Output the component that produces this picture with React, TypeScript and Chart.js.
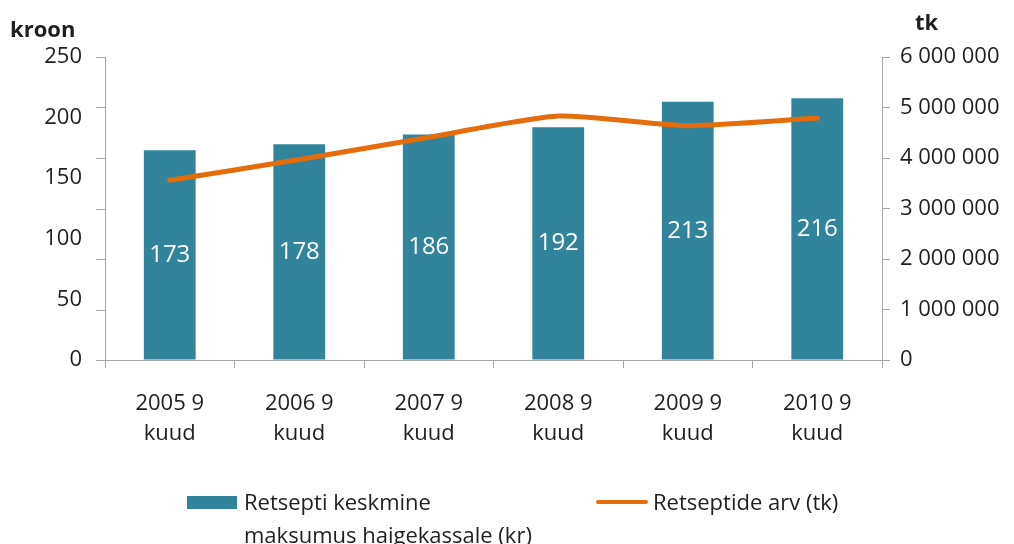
import React, { useEffect, useRef } from "react";
import { Chart, registerables } from "chart.js";

Chart.register(...registerables);

const categories: string[][] = [
  ["2005 9", "kuud"],
  ["2006 9", "kuud"],
  ["2007 9", "kuud"],
  ["2008 9", "kuud"],
  ["2009 9", "kuud"],
  ["2010 9", "kuud"],
];
const avgCost: number[] = [173, 178, 186, 192, 213, 216];
const rxCount: number[] = [3560000, 3970000, 4410000, 4830000, 4640000, 4790000];
const barLabelLines: string[] = ["Retsepti keskmine", "maksumus haigekassale (kr)"];
const lineLabel = "Retseptide arv (tk)";
const leftTitle = "kroon";
const rightTitle = "tk";

const TEAL = "#31849B";
const ORANGE = "#E46C0A";
const AXIS = "#A6A6A6";
const TEXT = "#1F1F1F";
const FONT = "'Open Sans', sans-serif";

const fmtSpaces = (v: number) =>
  String(Math.round(v)).replace(/\B(?=(\d{3})+(?!\d))/g, " ");

const extrasPlugin = {
  id: "extras",
  afterDatasetsDraw(chart: any) {
    const ctx = chart.ctx;
    const meta = chart.getDatasetMeta(0);
    ctx.save();
    ctx.fillStyle = "#FFFFFF";
    ctx.font = `24px ${FONT}`;
    ctx.textAlign = "center";
    ctx.textBaseline = "middle";
    meta.data.forEach((el: any, i: number) => {
      const yMid = (el.y + el.base) / 2;
      ctx.fillText(String(avgCost[i]), el.x, yMid);
    });
    ctx.restore();
  },
  afterDraw(chart: any) {
    const ctx = chart.ctx;
    const area = chart.chartArea;
    const y1 = chart.scales.y1;
    ctx.save();
    // left axis tick marks (aligned to secondary axis gridline positions)
    ctx.strokeStyle = AXIS;
    ctx.lineWidth = 1;
    y1.ticks.forEach((_t: any, i: number) => {
      const py = Math.round(y1.getPixelForTick(i)) + 0.5;
      ctx.beginPath();
      ctx.moveTo(area.left - 9, py);
      ctx.lineTo(area.left, py);
      ctx.stroke();
    });
    // axis titles
    ctx.fillStyle = TEXT;
    ctx.font = `bold 22px ${FONT}`;
    ctx.textBaseline = "middle";
    ctx.textAlign = "left";
    ctx.fillText(leftTitle, area.left - 95, area.top - 26);
    ctx.fillText(rightTitle, area.right + 33, area.top - 33);
    ctx.restore();
  },
};

export default function App() {
  const canvasRef = useRef<HTMLCanvasElement | null>(null);

  useEffect(() => {
    if (!canvasRef.current) return;
    const chart = new Chart(canvasRef.current, {
      type: "bar",
      data: {
        labels: categories,
        datasets: [
          {
            type: "bar",
            label: barLabelLines.join(" "),
            data: avgCost,
            backgroundColor: TEAL,
            borderWidth: 0,
            barPercentage: 0.4,
            categoryPercentage: 1,
            yAxisID: "y",
            order: 1,
          },
          {
            type: "line",
            label: lineLabel,
            data: rxCount,
            borderColor: ORANGE,
            borderWidth: 5,
            borderCapStyle: "round",
            borderJoinStyle: "round",
            pointRadius: 0,
            tension: 0.2,
            fill: false,
            yAxisID: "y1",
            order: 0,
          } as any,
        ],
      },
      options: {
        animation: false,
        responsive: true,
        maintainAspectRatio: false,
        layout: { padding: { top: 57, left: 0, right: 0, bottom: 0 } },
        plugins: {
          legend: { display: false },
          tooltip: { enabled: false },
          title: { display: false },
        },
        scales: {
          x: {
            offset: true,
            grid: {
              offset: true,
              drawOnChartArea: false,
              drawTicks: true,
              tickLength: 8,
              color: AXIS,
            },
            border: { display: true, color: AXIS, width: 1 },
            ticks: {
              color: TEXT,
              font: { family: FONT, size: 22, lineHeight: 1.36 },
              padding: 21,
              maxRotation: 0,
              autoSkip: false,
            },
            afterFit: (s: any) => {
              s.height = 184;
            },
          },
          y: {
            position: "left",
            min: 0,
            max: 250,
            ticks: {
              stepSize: 50,
              color: TEXT,
              font: { family: FONT, size: 22 },
              padding: 23,
            },
            grid: { drawOnChartArea: false, drawTicks: false },
            border: { display: true, color: AXIS, width: 1 },
            afterFit: (s: any) => {
              s.width = 105;
            },
          },
          y1: {
            position: "right",
            min: 0,
            max: 6000000,
            ticks: {
              stepSize: 1000000,
              color: TEXT,
              font: { family: FONT, size: 22 },
              padding: 10,
              callback: (v: any) => fmtSpaces(Number(v)),
            },
            grid: {
              drawOnChartArea: false,
              drawTicks: true,
              tickLength: 8,
              color: AXIS,
            },
            border: { display: true, color: AXIS, width: 1 },
            afterFit: (s: any) => {
              s.width = 132;
            },
          },
        },
      } as any,
      plugins: [extrasPlugin],
    });
    return () => chart.destroy();
  }, []);

  const legendText: React.CSSProperties = {
    position: "absolute",
    fontFamily: FONT,
    fontSize: 22,
    lineHeight: "33px",
    color: TEXT,
    whiteSpace: "nowrap",
  };

  return (
    <div
      style={{
        position: "fixed",
        left: 0,
        top: 0,
        width: 1014,
        height: 544,
        overflow: "hidden",
        background: "#FFFFFF",
      }}
    >
      <canvas ref={canvasRef} />
      <div
        style={{
          position: "absolute",
          left: 187,
          top: 496,
          width: 50,
          height: 13,
          background: TEAL,
        }}
      />
      <div style={{ ...legendText, left: 244, top: 485 }}>
        {barLabelLines.map((l, i) => (
          <div key={i}>{l}</div>
        ))}
      </div>
      <div
        style={{
          position: "absolute",
          left: 596,
          top: 500,
          width: 52,
          height: 4,
          borderRadius: 2,
          background: ORANGE,
        }}
      />
      <div style={{ ...legendText, left: 653, top: 485 }}>{lineLabel}</div>
    </div>
  );
}
